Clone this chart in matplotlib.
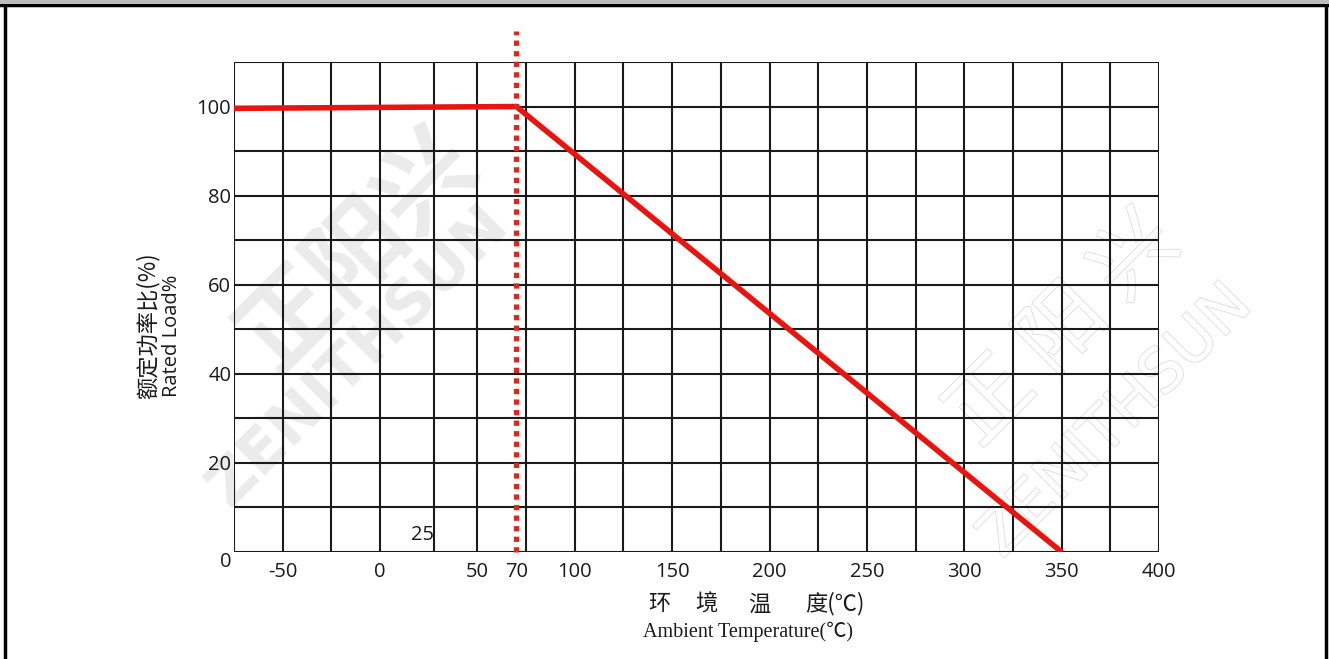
import matplotlib
matplotlib.use("Agg")
import matplotlib.pyplot as plt
import matplotlib.patheffects as pe
from matplotlib.lines import Line2D
from matplotlib.patches import Rectangle

# ---- data ----
temp_points = [-75, 70, 350]
load_points = [99.6, 100, 0]
knee_temp = 70
x_tick_values = [-50, 0, 50, 70, 100, 150, 200, 250, 300, 350, 400]
x_tick_labels = ["-50", "0", "50", "70", "100", "150", "200", "250", "300", "350", "400"]
y_tick_values = [0, 20, 40, 60, 80, 100]
y_tick_labels = ["0", "20", "40", "60", "80", "100"]
x_grid_values = [-75, -50, -25, 0, 27.5, 50, 75, 100, 125, 150, 175, 200, 225,
                 250, 275, 300, 325, 350, 375, 400]
y_grid_values = [0, 10, 20, 30, 40, 50, 60, 70, 80, 90, 100, 110]
xlabel_cn_parts = ["环", "境", "温", "度(℃)"]

W, H = 1329, 659
fig = plt.figure(figsize=(W / 100, H / 100), dpi=100)
fig.patch.set_facecolor("white")

# plot area: x 234..1159, y 62..552 (pixels from top)
ax = fig.add_axes([234 / W, 1 - 552 / H, (1159 - 234) / W, (552 - 62) / H])
ax.set_xlim(-75, 400)
ax.set_ylim(0, 110)
ax.set_facecolor("none")

# faint watermarks (behind everything)
wm = "#ebebeb"
fig.text(0.27, 0.62, "正阳兴", fontsize=70, color=wm, rotation=45,
         ha="center", va="center", family=["Noto Sans CJK SC"], weight="bold", zorder=-5)
fig.text(0.27, 0.46, "ZENITHSUN", fontsize=44, color=wm, rotation=45,
         ha="center", va="center", family=["DejaVu Sans"], weight="bold", zorder=-5)
fig.text(0.80, 0.50, "正 阳 兴", fontsize=60, color="white", rotation=45,
         ha="center", va="center", family=["Noto Sans CJK SC"], zorder=-5,
         path_effects=[pe.withStroke(linewidth=1.2, foreground="#dcdcdc")])
fig.text(0.84, 0.36, "ZENITHSUN", fontsize=44, color="white", rotation=45,
         ha="center", va="center", family=["DejaVu Sans"], zorder=-5,
         path_effects=[pe.withStroke(linewidth=1.2, foreground="#dcdcdc")])

for gx in x_grid_values:
    ax.axvline(gx, color="#1a1a1a", lw=1.5, zorder=1)
for gy in y_grid_values:
    ax.axhline(gy, color="#1a1a1a", lw=1.5, zorder=1)
for s in ax.spines.values():
    s.set_visible(False)

ax.set_xticks(x_tick_values)
ax.set_xticklabels(x_tick_labels)
ax.set_yticks(y_tick_values)
ax.set_yticklabels(y_tick_labels)
ax.tick_params(length=0, labelsize=14.5, colors="#1a1a1a")
ax.tick_params(axis="x", pad=7)
ax.tick_params(axis="y", pad=2)
for lab in ax.get_xticklabels() + ax.get_yticklabels():
    lab.set_family(["Open Sans"])
ax.get_yticklabels()[0].set_va("top")

# red derating curve
ax.plot(temp_points, load_points, color="#e8140f", lw=4.0, zorder=3,
        solid_capstyle="butt", solid_joinstyle="round")
# dotted vertical at knee
ax.plot([knee_temp, knee_temp], [0, 117], color="#d42a20", lw=3.8,
        linestyle=(0, (1.0, 1.0)), clip_on=False, zorder=4,
        dash_capstyle="butt")

# inside label "25"
ax.text(27.5, 1.5, "25", ha="right", va="bottom", fontsize=14.5,
        family=["Open Sans"], color="#1a1a1a")

# axis labels
fig.text(148 / W, 1 - 326 / H, "额定功率比(%)", rotation=90, ha="center", va="center",
         fontsize=16, family=["Noto Sans CJK SC", "DejaVu Sans"], color="#1a1a1a")
fig.text(172 / W, 1 - 336 / H, "Rated Load%", rotation=90, ha="center", va="center",
         fontsize=14.5, family=["Open Sans"], color="#1a1a1a")
for px, part in zip([648, 695, 748, 805], xlabel_cn_parts):
    fig.text(px / W, 1 - 604 / H, part, ha="left", va="center",
             fontsize=16, family=["Noto Sans CJK SC", "DejaVu Sans"], color="#1a1a1a")
fig.text(748 / W, 1 - 632 / H, "Ambient Temperature(℃)", ha="center", va="center",
         fontsize=14.5, family=["Liberation Serif", "Noto Sans CJK SC"], color="#1a1a1a")

# frame: top gray band, black lines
fig.patches.append(Rectangle((0, 1 - 4 / H), 1, 4 / H, transform=fig.transFigure,
                             facecolor="#bdbdbd", edgecolor="none", zorder=5))
fig.add_artist(Line2D([0, 1], [1 - 5 / H, 1 - 5 / H], transform=fig.transFigure,
                      color="black", lw=2.5))
fig.add_artist(Line2D([5 / W, 5 / W], [0, 1 - 5 / H], transform=fig.transFigure,
                      color="black", lw=2.5))
fig.add_artist(Line2D([1326 / W, 1326 / W], [0, 1 - 5 / H], transform=fig.transFigure,
                      color="black", lw=2.5))

fig.savefig("out.png", dpi=100)
